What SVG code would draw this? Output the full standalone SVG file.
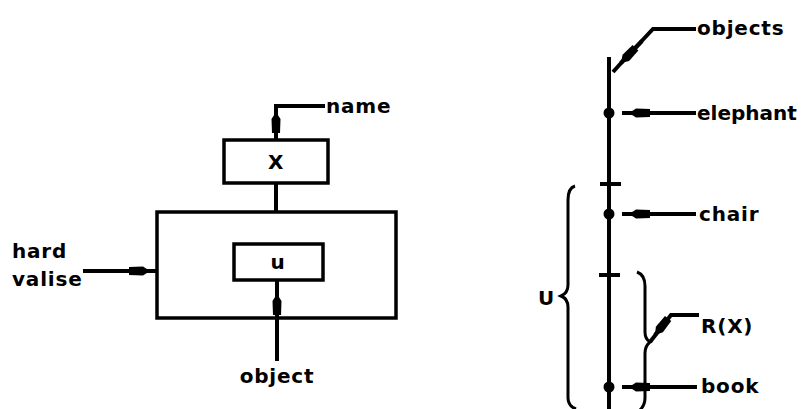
<svg xmlns="http://www.w3.org/2000/svg" width="804" height="409" viewBox="0 0 804 409">
  <defs>
    <marker id="ah" viewBox="-24 -6 25 12" refX="0" refY="0" markerWidth="25" markerHeight="12" markerUnits="userSpaceOnUse" orient="auto">
      <path d="M0,0 L-7,-4.5 L-21,-4 L-21,4 L-7,4.5 Z" fill="#000"/>
    </marker>
  </defs>
  <style>
    .ln { fill: none; stroke: #000; stroke-width: 4; stroke-linecap: butt; stroke-linejoin: miter; }
    .th { fill: none; stroke: #000; stroke-width: 3; }
    .box { fill: #fff; stroke: #000; stroke-width: 3.5; }
    .lbl { font-family: "DejaVu Sans", "Liberation Sans", sans-serif; font-weight: bold; font-size: 20px; letter-spacing: 0.8px; fill: #000; }
    .mid { text-anchor: middle; }
    .dot { fill: #000; }
  </style>
  <rect width="804" height="409" fill="#fff"/>

  <g id="node-outer">
    <rect class="box" x="157" y="212" width="239" height="106"/>
  </g>

  <g id="node-X">
    <rect class="box" x="224" y="140" width="104" height="43"/>
    <text class="lbl mid" x="276" y="169" font-size="22">X</text>
  </g>

  <g id="node-u">
    <rect class="box" x="234" y="244" width="89" height="36"/>
    <text class="lbl mid" x="278" y="269">u</text>
  </g>

  <g id="connectors">
    <!-- X to name -->
    <path class="ln" d="M276,140 L276,112" marker-end="url(#ah)"/>
    <path class="ln" d="M276,114 L276,106 L325,106"/>
    <!-- X to big box -->
    <path class="ln" d="M276,183 L276,212"/>
    <!-- hard valise arrow -->
    <path class="ln" d="M83,271 L150,271" marker-end="url(#ah)"/>
    <path class="ln" d="M148,271 L157,271"/>
    <!-- object arrow -->
    <path class="ln" d="M277,361 L277,294" marker-end="url(#ah)"/>
    <path class="ln" d="M277,296 L277,281"/>
    <!-- main vertical line -->
    <path class="ln" d="M609,57 L609,409"/>
    <!-- ticks -->
    <path class="ln" d="M600,184 L621,184"/>
    <path class="ln" d="M599,275 L620,275"/>
    <!-- objects leader -->
    <path class="ln" d="M696,29 L653,29 L621,63"/>
    <path class="ln" d="M642,41 L621,63" marker-end="url(#ah)"/>
    <path class="ln" d="M622,62 L613,72"/>
    <!-- elephant -->
    <path class="ln" d="M696,113 L629,113" marker-end="url(#ah)"/>
    <path class="ln" d="M631,113 L622,113"/>
    <!-- chair -->
    <path class="ln" d="M696,214 L629,214" marker-end="url(#ah)"/>
    <path class="ln" d="M631,214 L622,214"/>
    <!-- book -->
    <path class="ln" d="M697,387 L629,387" marker-end="url(#ah)"/>
    <path class="ln" d="M631,387 L622,387"/>
    <!-- R(X) leader -->
    <path class="ln" d="M699,315 L671,315 L650,342"/>
    <path class="ln" d="M667,320 L655,335" marker-end="url(#ah)"/>
    <!-- U brace -->
    <path class="th" d="M575,186 Q568,188 568,200 L568,285 Q568,293 561,296 Q568,299 568,307 L568,398 Q568,406 576,409"/>
    <!-- R(X) brace -->
    <path class="th" d="M637,272 Q645,275 645,286 L645,332 Q645,339 650,342 Q645,346 645,353 L645,398 Q645,405 640,410"/>
  </g>

  <g id="label-name"><text class="lbl" x="326" y="113">name</text></g>
  <g id="label-hard-valise">
    <text class="lbl" x="12" y="258">hard</text>
    <text class="lbl" x="12" y="286">valise</text>
  </g>
  <g id="label-object"><text class="lbl mid" x="277" y="383">object</text></g>

  <g id="label-objects"><text class="lbl" x="697" y="35">objects</text></g>
  <g id="label-elephant"><text class="lbl" x="697" y="120" style="letter-spacing:0">elephant</text></g>
  <g id="label-chair"><text class="lbl" x="699" y="221">chair</text></g>
  <g id="label-RX"><text class="lbl" x="701" y="333">R(X)</text></g>
  <g id="label-book"><text class="lbl" x="701" y="393">book</text></g>
  <g id="label-U"><text class="lbl" x="538" y="305">U</text></g>

  <g id="dots">
    <circle class="dot" cx="609" cy="113" r="5.5"/>
    <circle class="dot" cx="609" cy="214" r="5.5"/>
    <circle class="dot" cx="609" cy="387" r="5.5"/>
  </g>
</svg>
